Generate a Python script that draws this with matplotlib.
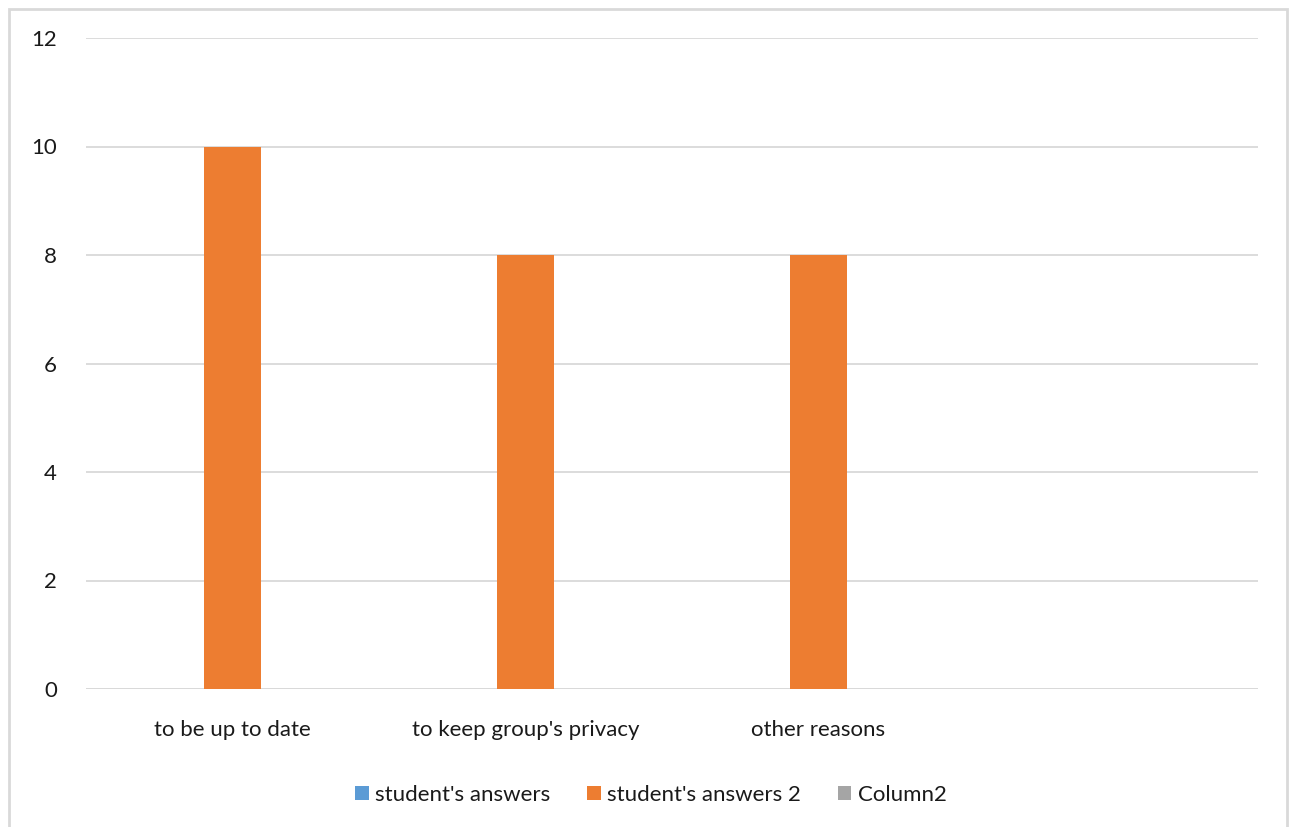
import matplotlib.pyplot as plt
import numpy as np
from matplotlib.patches import Rectangle

plt.rcParams['font.family'] = ['Lato', 'DejaVu Sans']

categories = ["to be up to date", "to keep group's privacy", "other reasons", ""]
series_names = ["student's answers", "student's answers 2", "Column2"]
answers = [0, 0, 0, 0]
answers_2 = [10, 8, 8, 0]
column2 = [0, 0, 0, 0]
colors = ['#5b9bd5', '#ed7d31', '#a5a5a5']
yticks = [0, 2, 4, 6, 8, 10, 12]

fig = plt.figure(figsize=(12.9, 8.27), dpi=100)
ax = fig.add_axes([86/1290, 1-689/827, (1258-86)/1290, (689-38)/827])

# outer chart frame (bottom edge runs off the image)
fig.patches.append(Rectangle((9/1290, -0.05), (1287-9)/1290, 1.05 - 9/827,
                             transform=fig.transFigure, fill=False,
                             edgecolor='#d9d9d9', linewidth=2))

x = np.arange(len(categories))
w = 57/293
for i, (vals, name) in enumerate(zip([answers, answers_2, column2], series_names)):
    ax.bar(x + (i-1)*w, vals, w, color=colors[i], label=name, zorder=3)

ax.set_xlim(-0.5, len(categories)-0.5)
ax.set_ylim(0, 12)
ax.set_yticks(yticks)
ax.grid(axis='y', color='#d9d9d9', linewidth=1.3, zorder=0)
for s in ax.spines.values():
    s.set_visible(False)
ax.axhline(0, color='#d9d9d9', linewidth=1.3, zorder=2)
ax.tick_params(length=0, labelsize=16, colors='#1a1a1a')
ax.tick_params(axis='y', pad=21)
ax.set_xticks(x)
ax.set_xticklabels(categories)
ax.tick_params(axis='x', pad=22)

fig.legend(loc='center', bbox_to_anchor=(651/1290, 1-795/827), ncol=3, frameon=False,
           fontsize=16, handlelength=0.6, handleheight=0.6, handletextpad=0.3,
           columnspacing=1.65, labelcolor='#1a1a1a')

fig.savefig('out.png', dpi=100)
